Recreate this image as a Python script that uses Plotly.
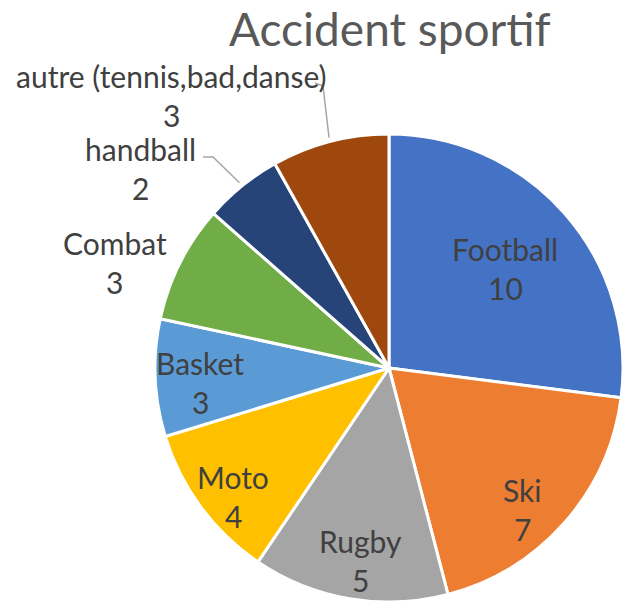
import math
import plotly.graph_objects as go

# Sports accidents by activity
sports = ["Football", "Ski", "Rugby", "Moto", "Basket", "Combat", "handball",
          "autre (tennis,bad,danse)"]
counts = [10, 7, 5, 4, 3, 3, 2, 3]
colors = ["#4472C4", "#ED7D31", "#A5A5A5", "#FFC000", "#5B9BD5", "#70AD47",
          "#264478", "#9E480E"]

W, H = 623, 606
CX, CY, R = 389, 368, 234          # pie centre and radius in pixels

# label anchor points (pixels): name line and value line
label_name_xy = {
    "Football": (505, 249), "Ski": (522, 490), "Rugby": (360, 541),
    "Moto": (233, 477), "Basket": (200, 363), "Combat": (115, 243),
    "handball": (140, 149), "autre (tennis,bad,danse)": (171, 76),
}
label_value_dy = 39
# leader lines: label-side points, then the slice edge
leader_elbows = {
    "handball": [(203, 157), (213, 157)],
    "autre (tennis,bad,danse)": [(315, 83), (323, 86)],
}


def px(x):
    return x / W


def py(y):
    return 1 - y / H


fig = go.Figure(go.Pie(
    labels=sports,
    values=counts,
    sort=False,
    direction="clockwise",
    rotation=0,
    marker=dict(colors=colors, line=dict(color="white", width=3)),
    textinfo="none",
    hoverinfo="label+value",
    showlegend=False,
    domain=dict(x=[px(CX - R), min(1.0, px(CX + R))],
                y=[py(CY + R), py(CY - R)]),
))

label_font = dict(family="Lato, Calibri, sans-serif", size=30, color="#404040")
annotations = []
for name, val in zip(sports, counts):
    nx, ny = label_name_xy[name]
    annotations.append(dict(x=px(nx), y=py(ny), xref="paper", yref="paper",
                            text=name, showarrow=False, font=label_font,
                            xanchor="center", yanchor="middle"))
    annotations.append(dict(x=px(nx), y=py(ny + label_value_dy), xref="paper",
                            yref="paper", text=str(val), showarrow=False,
                            font=label_font, xanchor="center", yanchor="middle"))

annotations.append(dict(
    x=px(390), y=py(29), xref="paper", yref="paper", text="Accident sportif",
    showarrow=False, xanchor="center", yanchor="middle",
    font=dict(family="Lato, Calibri, sans-serif", size=46, color="#595959")))

total = sum(counts)
shapes = []
cum = 0
for name, val in zip(sports, counts):
    mid = math.radians((cum + val / 2) / total * 360)
    cum += val
    if name not in leader_elbows:
        continue
    ex = CX + (R + 4) * math.sin(mid)
    ey = CY - (R + 4) * math.cos(mid)
    pts = leader_elbows[name] + [(ex, ey)]
    path = "M " + " L ".join(f"{px(x):.5f},{py(y):.5f}" for x, y in pts)
    shapes.append(dict(type="path", path=path, xref="paper", yref="paper",
                       line=dict(color="#A6A6A6", width=1.5)))

fig.update_layout(
    width=W, height=H,
    margin=dict(l=0, r=0, t=0, b=0),
    paper_bgcolor="white", plot_bgcolor="white",
    annotations=annotations,
    shapes=shapes,
)

fig.write_html("out.html")
